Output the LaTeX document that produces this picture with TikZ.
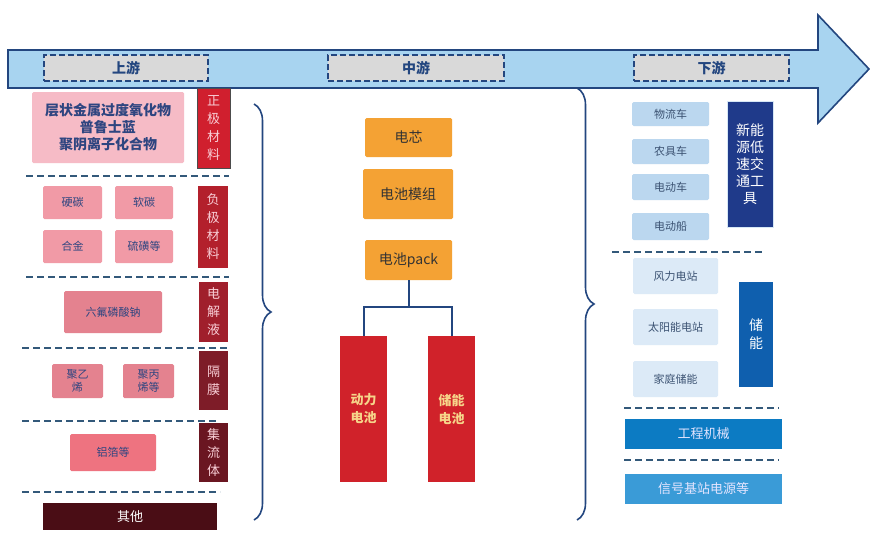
\documentclass[tikz,border=0pt]{standalone}
\usepackage{fontspec}
\setmainfont{Noto Sans CJK SC}
\usetikzlibrary{decorations.pathreplacing}
\definecolor{navy}{HTML}{23467F}
\definecolor{arrowfill}{HTML}{A8D4F0}
\definecolor{lblgray}{HTML}{D9D9D9}
\definecolor{dashc}{HTML}{33597A}
\definecolor{pinkA}{HTML}{F6BBC6}
\definecolor{pinkB}{HTML}{F19AA6}
\definecolor{pinkC}{HTML}{E4828F}
\definecolor{pinkD}{HTML}{EE7380}
\definecolor{redA}{HTML}{D01F2E}
\definecolor{redB}{HTML}{B3202C}
\definecolor{redC}{HTML}{A01F2C}
\definecolor{redD}{HTML}{7E1C28}
\definecolor{redE}{HTML}{6A1621}
\definecolor{redF}{HTML}{4A0D15}
\definecolor{orangeA}{HTML}{F4A234}
\definecolor{batred}{HTML}{D0222A}
\definecolor{battxt}{HTML}{F6D58A}
\definecolor{blueL}{HTML}{BBD7EF}
\definecolor{blueXL}{HTML}{DCEAF7}
\definecolor{navyB}{HTML}{1F3A8A}
\definecolor{blueM}{HTML}{0F5FAE}
\definecolor{blueN}{HTML}{0C7BC3}
\definecolor{blueO}{HTML}{3A9BD7}
\definecolor{txtblue}{HTML}{2E4580}
\definecolor{txtslate}{HTML}{3B5272}
\newcommand{\bx}[7]{\node[#1, minimum width={#5-#3}, minimum height={#6-#4}] (#2) at ({(#3+#5)/2},{(#4+#6)/2}) {#7};}
\tikzset{
  x=1pt, y=-1pt,
  base/.style={inner sep=0pt, outer sep=0pt, rounded corners=1.5pt, align=center},
  lbl/.style={base, fill=lblgray, draw=navy, dash pattern=on 6pt off 3pt, line width=1.5pt, rounded corners=0pt, font=\fontsize{14}{16}\selectfont\bfseries, text=navy},
  sep/.style={draw=dashc, line width=1.6pt, dash pattern=on 7pt off 4pt},
  pinkbox/.style={base, font=\fontsize{11}{14}\selectfont, text=txtblue},
  vbox/.style={base, rounded corners=0pt, font=\fontsize{13}{18}\selectfont, text=pinkA!70!white},
  orangebox/.style={base, fill=orangeA, font=\fontsize{14}{17}\selectfont, text=black!80},
  batbox/.style={base, fill=batred, rounded corners=0pt, font=\fontsize{13}{18}\selectfont\bfseries, text=battxt},
  lbbox/.style={base, fill=blueL, font=\fontsize{11}{14}\selectfont, text=txtslate},
  xlbox/.style={base, fill=blueXL, font=\fontsize{11}{14}\selectfont, text=txtslate},
  bracec/.style={draw=navy, line width=1.6pt, decorate, decoration={brace, amplitude=17pt}},
  conn/.style={draw=navy, line width=2pt}
}
\begin{document}
\begin{tikzpicture}
\useasboundingbox (0,0) rectangle (870,533);
\fill[white] (0,0) rectangle (870,533);
% main arrow
\draw[fill=arrowfill, draw=navy, line width=1.6pt, line join=miter]
  (8,50) -- (818,50) -- (818,15) -- (869,69) -- (818,123) -- (818,88) -- (8,88) -- cycle;
\bx{lbl}{up}{44}{55}{208}{81}{上游}
\bx{lbl}{mid}{328}{55}{504}{81}{中游}
\bx{lbl}{down}{634}{55}{789}{81}{下游}

% ---------- upstream ----------
\bx{base, fill=pinkA, font=\fontsize{14}{17}\selectfont\bfseries, text=txtblue}{cathmat}{32}{92}{184}{163}{层状金属过度氧化物\\普鲁士蓝\\聚阴离子化合物}
\bx{vbox, fill=redA, draw=black!70, line width=1pt}{cath}{197}{88}{230}{168}{正\\极\\材\\料}
\draw[sep] (26,176) -- (229,176);
\bx{pinkbox, fill=pinkB}{hc}{43}{186}{102}{219}{硬碳}
\bx{pinkbox, fill=pinkB}{sc}{115}{186}{173}{219}{软碳}
\bx{pinkbox, fill=pinkB}{alloy}{43}{230}{102}{263}{合金}
\bx{pinkbox, fill=pinkB}{sulf}{115}{230}{173}{263}{硫磺等}
\bx{vbox, fill=redB}{anode}{198}{186}{228}{268}{负\\极\\材\\料}
\draw[sep] (26,277) -- (229,277);
\bx{pinkbox, fill=pinkC}{npf}{64}{291}{162}{333}{六氟磷酸钠}
\bx{vbox, fill=redC}{elec}{199}{282}{228}{342}{电\\解\\液}
\draw[sep] (22,348) -- (228,348);
\bx{pinkbox, fill=pinkC, font=\fontsize{11}{13}\selectfont}{pe}{52}{364}{103}{398}{聚乙\\烯}
\bx{pinkbox, fill=pinkC, font=\fontsize{11}{13}\selectfont}{pp}{123}{364}{174}{398}{聚丙\\烯等}
\bx{vbox, fill=redD}{sepr}{199}{351}{228}{410}{隔\\膜}
\draw[sep] (22,421) -- (218,421);
\bx{pinkbox, fill=pinkD}{al}{70}{434}{156}{471}{铝箔等}
\bx{vbox, fill=redE}{coll}{199}{423}{228}{482}{集\\流\\体}
\draw[sep] (22,492) -- (220,492);
\bx{base, fill=redF, rounded corners=0pt, font=\fontsize{13}{15}\selectfont, text=white}{other}{43}{503}{217}{530}{其他}

% braces
\coordinate (lbT) at (254,104);
\coordinate (lbB) at (254,520);
\draw[bracec] (lbT) -- (lbB);
\coordinate (rbT) at (577,88);
\coordinate (rbB) at (577,520);
\draw[bracec] (rbT) -- (rbB);

% ---------- midstream ----------
\bx{orangebox}{cell}{365}{118}{452}{157}{电芯}
\bx{orangebox}{module}{363}{169}{453}{219}{电池模组}
\bx{orangebox}{pack}{365}{240}{452}{280}{电池pack}
\bx{batbox}{power}{340}{336}{387}{482}{动力\\电池}
\bx{batbox}{storage}{428}{336}{475}{482}{储能\\电池}
\coordinate (jn) at (408.5,307);
\draw[conn] (pack.south) -- (jn);
\draw[conn] (jn) -| (power.north);
\draw[conn] (jn) -| (storage.north);

% ---------- downstream ----------
\bx{lbbox}{logi}{632}{102}{709}{126}{物流车}
\bx{lbbox}{farm}{632}{139}{709}{164}{农具车}
\bx{lbbox}{ecar}{632}{174}{709}{200}{电动车}
\bx{lbbox}{eboat}{632}{213}{709}{240}{电动船}
\bx{base, fill=navyB, draw=blueL!60, line width=0.6pt, rounded corners=0pt, font=\fontsize{14}{17}\selectfont, text=white}{lowspeed}{727}{101}{773}{227}{新能\\源低\\速交\\通工\\具}
\draw[sep] (612,252) -- (765,252);
\bx{xlbox}{wind}{633}{258}{718}{294}{风力电站}
\bx{xlbox}{solar}{633}{309}{718}{345}{太阳能电站}
\bx{xlbox}{home}{633}{361}{718}{397}{家庭储能}
\bx{base, fill=blueM, rounded corners=0pt, font=\fontsize{14}{18}\selectfont, text=white}{ess}{739}{282}{773}{387}{储\\能}
\draw[sep] (624,408) -- (779,408);
\bx{base, fill=blueN, rounded corners=0pt, font=\fontsize{13}{15}\selectfont, text=white!90!blue}{eng}{625}{419}{782}{449}{工程机械}
\draw[sep] (624,460) -- (779,460);
\bx{base, fill=blueO, rounded corners=0pt, font=\fontsize{13}{15}\selectfont, text=white!90!blue}{signal}{625}{474}{782}{504}{信号基站电源等}
\end{tikzpicture}
\end{document}
